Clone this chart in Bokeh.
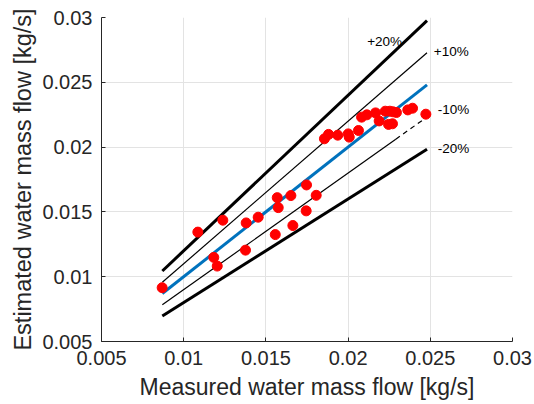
from bokeh.plotting import figure
from bokeh.models import FixedTicker, Label
from bokeh.embed import file_html
from bokeh.resources import INLINE

measured = [0.00869, 0.01086, 0.01238, 0.01183, 0.01204, 0.01380, 0.01376, 0.01453,
            0.01569, 0.01575, 0.01557, 0.01652, 0.01664, 0.01747, 0.01745, 0.01806,
            0.01856, 0.01881, 0.01937, 0.02001, 0.02007, 0.02063, 0.02082, 0.02114,
            0.02167, 0.02189, 0.02226, 0.02254, 0.02274, 0.02294, 0.02246, 0.02270,
            0.02363, 0.02392, 0.02473]
estimated = [0.00915, 0.01344, 0.01436, 0.01149, 0.01082, 0.01415, 0.01205, 0.01459,
             0.01610, 0.01533, 0.01325, 0.01626, 0.01395, 0.01708, 0.01508, 0.01628,
             0.02064, 0.02098, 0.02092, 0.02102, 0.02077, 0.02128, 0.02231, 0.02249,
             0.02264, 0.02202, 0.02277, 0.02277, 0.02272, 0.02267, 0.02175, 0.02180,
             0.02287, 0.02300, 0.02254]

tick_values = [0.005, 0.01, 0.015, 0.02, 0.025, 0.03]
tick_labels = ["0.005", "0.01", "0.015", "0.02", "0.025", "0.03"]

line_x = [0.0087, 0.0248]
dash_start = 0.0229
band_factors = [1.2, 1.1, 1.0, 0.9, 0.8]
band_texts = ["+20%", "+10%", "-10%", "-20%"]
band_text_x = [0.02116, 0.02521, 0.02546, 0.02546]
band_text_y = [0.02815, 0.02738, 0.02292, 0.01992]

TXT = "#262626"
FONT = "Liberation Sans"

p = figure(width=534, height=404, x_range=(0.005, 0.03), y_range=(0.005, 0.03),
           output_backend="svg", toolbar_location=None,
           min_border_left=101, min_border_right=22, min_border_top=17, min_border_bottom=63)
p.outline_line_color = None
p.background_fill_color = "white"
p.border_fill_color = "white"

for ax in (p.xaxis[0], p.yaxis[0]):
    ax.ticker = FixedTicker(ticks=tick_values)
    ax.major_label_overrides = {v: s for v, s in zip(tick_values, tick_labels)}
    ax.major_tick_in = 4
    ax.major_tick_out = 0
    ax.minor_tick_in = 0
    ax.minor_tick_out = 0
    ax.axis_line_color = TXT
    ax.major_tick_line_color = TXT
    ax.major_label_text_color = TXT
    ax.major_label_text_font = FONT
    ax.major_label_text_font_size = "20px"
    ax.axis_label_text_color = TXT
    ax.axis_label_text_font = FONT
    ax.axis_label_text_font_style = "normal"

p.xaxis.axis_label = "Measured water mass flow [kg/s]"
p.yaxis.axis_label = "Estimated water mass flow [kg/s]"
p.xaxis.axis_label_text_font_size = "23px"
p.yaxis.axis_label_text_font_size = "23.5px"
p.xaxis.major_label_standoff = 9
p.xaxis.axis_label_standoff = 6
p.yaxis.major_label_standoff = 9
p.yaxis.axis_label_standoff = 3

p.xgrid.grid_line_color = "#e3e3e3"
p.ygrid.grid_line_color = "#e3e3e3"
p.xgrid.ticker = FixedTicker(ticks=tick_values)
p.ygrid.ticker = FixedTicker(ticks=tick_values)

# +20% and -20% (thick), +10% (thin), 1:1 (blue)
p.line(line_x, [x * band_factors[0] for x in line_x], line_color="black", line_width=3)
p.line(line_x, [x * band_factors[4] for x in line_x], line_color="black", line_width=3)
p.line(line_x, [x * band_factors[1] for x in line_x], line_color="black", line_width=1.2)
solid_x = [line_x[0], dash_start]
dash_x = [dash_start, line_x[1]]
p.line(solid_x, [x * band_factors[3] for x in solid_x], line_color="black", line_width=1.2)
p.line(dash_x, [x * band_factors[3] for x in dash_x], line_color="black", line_width=1.2,
       line_dash="5 4")
p.line(line_x, [x * band_factors[2] for x in line_x], line_color="#0072BD", line_width=3)

p.scatter(measured, estimated, size=10, fill_color="#ff0000", line_color="#ff0000")

for t, x, y in zip(band_texts, band_text_x, band_text_y):
    p.add_layout(Label(x=x, y=y, text=t, text_font=FONT, text_font_size="13.5px",
                       text_color="black", text_baseline="middle", text_align="left"))

open("out.html", "w").write(file_html(p, INLINE))
